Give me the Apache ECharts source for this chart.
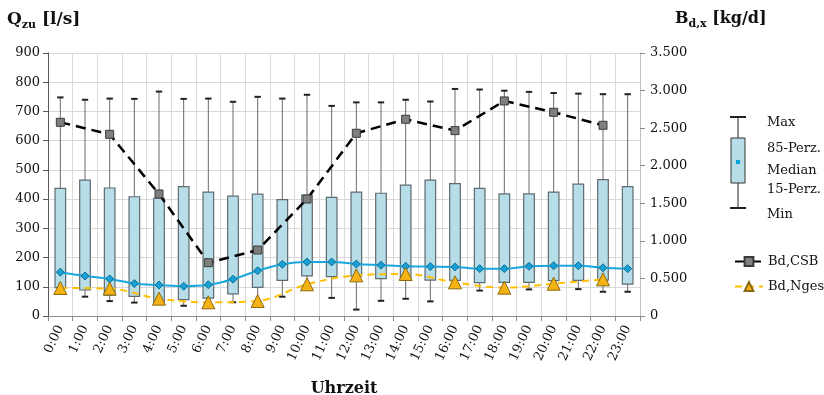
<!DOCTYPE html>
<html>
<head>
<meta charset="utf-8">
<script src="https://cdn.jsdelivr.net/npm/echarts@6/dist/echarts.min.js"></script>
<style>
  html, body { margin: 0; padding: 0; background: #fff; }
  #chart { width: 824px; height: 395px; }
</style>
</head>
<body>
<div id="chart"></div>
<script>
// Hourly inflow statistics (l/s) and daily loads (kg/d)
const hours = ['0:00','1:00','2:00','3:00','4:00','5:00','6:00','7:00','8:00','9:00','10:00','11:00',
               '12:00','13:00','14:00','15:00','16:00','17:00','18:00','19:00','20:00','21:00','22:00','23:00'];
const qMax    = [748,740,744,743,768,743,744,733,750,744,757,719,731,731,740,734,777,775,771,767,763,761,759,759];
const q85     = [437,465,438,408,403,443,424,410,417,398,414,406,424,420,448,465,453,437,418,418,424,451,467,443];
const qMedian = [150,137,127,111,106,102,107,126,155,177,185,185,178,174,170,169,168,162,162,170,172,172,165,162];
const q15     = [97,89,71,67,48,56,61,76,98,122,137,135,136,128,129,123,122,114,115,115,121,122,123,109];
const qMin    = [78,66,51,46,42,35,40,47,50,66,100,62,22,52,59,50,100,87,90,91,95,92,83,83];
const bdCSB   = [2578,null,2418,null,1624,null,709,null,878,null,1557,null,2432,null,2618,null,2467,null,2862,null,2711,null,2538,null];
const bdNges  = [373,null,365,null,231,null,182,null,200,null,422,null,541,null,559,null,448,null,377,null,430,null,488,null];
const leftTicks = { min: 0, max: 900, interval: 100 };
const rightTicks = { min: 0, max: 3500, interval: 500 };

const FONT = 'DejaVu Serif';
const chart = echarts.init(document.getElementById('chart'), null, { renderer: 'canvas' });

const boxData = hours.map((h, i) => [i, qMin[i], q15[i], q85[i], qMax[i]]);

function renderBox(params, api) {
  const i = api.value(0);
  const band = api.size([1, 0])[0];
  const bw = band * 0.43;
  const cw = band * 0.26;
  const pMin = api.coord([i, api.value(1)]);
  const pLo = api.coord([i, api.value(2)]);
  const pHi = api.coord([i, api.value(3)]);
  const pMax = api.coord([i, api.value(4)]);
  const x = pMin[0];
  return {
    type: 'group',
    children: [
      { type: 'line', shape: { x1: x, y1: pMax[1], x2: x, y2: pHi[1] }, style: { stroke: '#6b6b6b', lineWidth: 1 } },
      { type: 'line', shape: { x1: x - cw / 2, y1: pMax[1], x2: x + cw / 2, y2: pMax[1] }, style: { stroke: '#222', lineWidth: 2 } },
      { type: 'line', shape: { x1: x, y1: pLo[1], x2: x, y2: pMin[1] }, style: { stroke: '#6b6b6b', lineWidth: 1 } },
      { type: 'line', shape: { x1: x - cw / 2, y1: pMin[1], x2: x + cw / 2, y2: pMin[1] }, style: { stroke: '#222', lineWidth: 2 } },
      { type: 'rect', shape: { x: x - bw / 2, y: pHi[1], width: bw, height: pLo[1] - pHi[1] },
        style: { fill: '#b7dde8', stroke: '#5f6b70', lineWidth: 1.2 } }
    ]
  };
}

const textStyle = { fontFamily: FONT, fontSize: 13, color: '#111' };

const option = {
  animation: false,
  backgroundColor: '#fff',
  grid: { left: 48, right: 184, top: 53, bottom: 79, containLabel: false, outerBoundsMode: 'none' },
  legend: {
    data: ['Bd,CSB', 'Bd,Nges'],
    orient: 'vertical',
    left: 729,
    top: 250,
    itemWidth: 28,
    itemHeight: 11,
    itemGap: 12,
    textStyle: { fontFamily: FONT, fontSize: 13, color: '#111' }
  },
  xAxis: {
    type: 'category',
    data: hours,
    boundaryGap: true,
    name: 'Uhrzeit',
    nameLocation: 'middle',
    nameGap: 65,
    nameTextStyle: { fontFamily: FONT, fontSize: 16, fontWeight: 'bold', color: '#111' },
    axisLine: { lineStyle: { color: '#8a8a8a', width: 1 } },
    axisTick: { show: true, length: 5, lineStyle: { color: '#8a8a8a' } },
    axisLabel: { interval: 0, rotate: 65, margin: 10, ...textStyle },
    splitLine: { show: true, interval: 0, lineStyle: { color: '#d9d9d9', width: 1 } }
  },
  yAxis: [
    {
      type: 'value',
      min: leftTicks.min, max: leftTicks.max, interval: leftTicks.interval,
      axisLine: { show: true, lineStyle: { color: '#595959' } },
      axisTick: { show: true, length: 5, lineStyle: { color: '#595959' } },
      axisLabel: { margin: 8, ...textStyle },
      splitLine: { show: true, lineStyle: { color: '#d9d9d9', width: 1 } }
    },
    {
      type: 'value',
      position: 'right',
      min: rightTicks.min, max: rightTicks.max, interval: rightTicks.interval,
      axisLine: { show: true, lineStyle: { color: '#bfbfbf' } },
      axisTick: { show: true, length: 5, lineStyle: { color: '#8a8a8a' } },
      axisLabel: {
        margin: 10, ...textStyle,
        formatter: v => v === 0 ? '0' : (v / 1000).toFixed(3)
      },
      splitLine: { show: false }
    }
  ],
  graphic: [
    {
      type: 'text', left: 7, top: 11,
      style: {
        text: '{b|Q}{s|zu}{b| [l/s]}',
        rich: {
          b: { fontFamily: FONT, fontSize: 17, fontWeight: 'bold', fill: '#111', verticalAlign: 'bottom' },
          s: { fontFamily: FONT, fontSize: 11, fontWeight: 'bold', fill: '#111', verticalAlign: 'bottom', padding: [0, 0, -3, 0] }
        }
      }
    },
    {
      type: 'text', left: 675, top: 11,
      style: {
        text: '{b|B}{s|d,x}{b| [kg/d]}',
        rich: {
          b: { fontFamily: FONT, fontSize: 16, fontWeight: 'bold', fill: '#111', verticalAlign: 'bottom' },
          s: { fontFamily: FONT, fontSize: 11, fontWeight: 'bold', fill: '#111', verticalAlign: 'bottom', padding: [0, 0, -3, 0] }
        }
      }
    },
    // box-and-whisker key
    { type: 'line', shape: { x1: 738, y1: 117, x2: 738, y2: 138 }, style: { stroke: '#222', lineWidth: 1 } },
    { type: 'line', shape: { x1: 730, y1: 117, x2: 746, y2: 117 }, style: { stroke: '#222', lineWidth: 2 } },
    { type: 'line', shape: { x1: 738, y1: 183, x2: 738, y2: 208 }, style: { stroke: '#222', lineWidth: 1 } },
    { type: 'line', shape: { x1: 730, y1: 208, x2: 746, y2: 208 }, style: { stroke: '#222', lineWidth: 2 } },
    { type: 'rect', shape: { x: 731, y: 138, width: 14, height: 45 }, style: { fill: '#b7dde8', stroke: '#333', lineWidth: 1 } },
    { type: 'rect', shape: { x: 736, y: 160, width: 4, height: 4 }, style: { fill: '#00a3e0' } },
    { type: 'text', left: 767, top: 116, style: { text: 'Max', font: '13px ' + FONT, fill: '#111' } },
    { type: 'text', left: 767, top: 142, style: { text: '85-Perz.', font: '13px ' + FONT, fill: '#111' } },
    { type: 'text', left: 767, top: 164, style: { text: 'Median', font: '13px ' + FONT, fill: '#111' } },
    { type: 'text', left: 767, top: 183, style: { text: '15-Perz.', font: '13px ' + FONT, fill: '#111' } },
    { type: 'text', left: 767, top: 208, style: { text: 'Min', font: '13px ' + FONT, fill: '#111' } }
  ],
  series: [
    {
      name: 'Box',
      type: 'custom',
      renderItem: renderBox,
      data: boxData,
      encode: { x: 0, y: [1, 2, 3, 4] },
      z: 1
    },
    {
      name: 'Median',
      type: 'line',
      data: qMedian,
      smooth: 0.35,
      symbol: 'diamond',
      symbolSize: 8,
      lineStyle: { color: '#1aa7de', width: 2 },
      itemStyle: { color: '#1a9fd4', borderColor: '#0b6f96', borderWidth: 1 },
      z: 3
    },
    {
      name: 'Bd,CSB',
      type: 'line',
      yAxisIndex: 1,
      data: bdCSB,
      connectNulls: true,
      symbol: 'rect',
      symbolSize: 8,
      lineStyle: { color: '#000', width: 2.5, type: [10, 6] },
      itemStyle: { color: '#7f7f7f', borderColor: '#3a3a3a', borderWidth: 1 },
      z: 4
    },
    {
      name: 'Bd,Nges',
      type: 'line',
      yAxisIndex: 1,
      data: bdNges,
      connectNulls: true,
      smooth: 0.35,
      symbol: 'triangle',
      symbolSize: 13,
      lineStyle: { color: '#ffc000', width: 2, type: [7, 5] },
      itemStyle: { color: '#f5b214', borderColor: '#8a6a10', borderWidth: 1 },
      z: 4
    }
  ]
};

chart.setOption(option);
</script>
</body>
</html>
